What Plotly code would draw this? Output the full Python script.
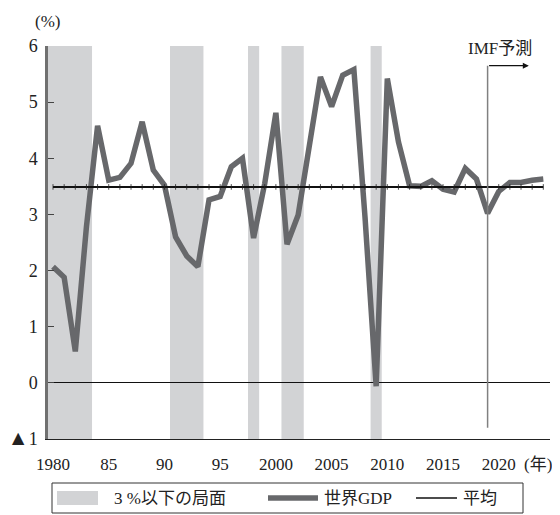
import plotly.graph_objects as go

years = list(range(1980, 2025))
world_gdp = [2.07, 1.88, 0.56, 2.78, 4.58, 3.61, 3.66, 3.91, 4.65, 3.79,
             3.52, 2.60, 2.26, 2.07, 3.26, 3.32, 3.85, 4.00, 2.58, 3.55,
             4.81, 2.47, 2.99, 4.25, 5.45, 4.92, 5.48, 5.58, 2.95, -0.06,
             5.42, 4.29, 3.51, 3.50, 3.60, 3.45, 3.40, 3.82, 3.63, 3.02,
             3.41, 3.57, 3.57, 3.61, 3.63]
average_value = 3.49
shade_start = [1979.5, 1990.5, 1997.5, 2000.5, 2008.5]
shade_end = [1983.5, 1993.5, 1998.5, 2002.5, 2009.5]
forecast_start = 2019
x_tickvals = [1980, 1985, 1990, 1995, 2000, 2005, 2010, 2015, 2020]
x_ticktext = ["1980", "85", "90", "95", "2000", "2005", "2010", "2015", "2020"]
y_tickvals = [-1, 0, 1, 2, 3, 4, 5, 6]
y_ticktext = ['<span style="font-size:21px">▲</span>1', "0", "1", "2", "3", "4", "5", "6"]

FONT = "Liberation Serif, 'Noto Sans CJK JP', serif"
GRAY_LINE = "#67686b"
SHADE = "#d2d3d5"
TXT = "#222222"

# page body has an 8px margin; figure is sized so the page matches 560x515
OFF = 8
W, H = 560 - OFF, 515 - OFF
ml, mr, mt, mb = 48 - OFF, 10, 46 - OFF, 76
pw, ph = W - ml - mr, H - mt - mb


def px(x):
    return (x - OFF - ml) / pw


def py(y):
    return (H - mb - (y - OFF)) / ph


fig = go.Figure()

fig.add_trace(go.Scatter(
    x=years, y=world_gdp, mode="lines",
    line=dict(color=GRAY_LINE, width=5.5),
    showlegend=False, hoverinfo="skip"))

fig.add_trace(go.Scatter(
    x=years, y=[average_value] * len(years), mode="lines+markers",
    line=dict(color="#111111", width=2),
    marker=dict(symbol="line-ns", size=4, line=dict(color="#222222", width=0.8)),
    showlegend=False, hoverinfo="skip"))

shapes = []
for s, e in zip(shade_start, shade_end):
    shapes.append(dict(type="rect", xref="x", yref="y", x0=s, x1=e, y0=-1, y1=6,
                       fillcolor=SHADE, line=dict(width=0), layer="below"))
# forecast vertical line
shapes.append(dict(type="line", xref="x", yref="y", x0=forecast_start, x1=forecast_start,
                   y0=-0.8, y1=5.65, line=dict(color="#808080", width=1.5), layer="above"))

# legend (manual)
shapes.append(dict(type="rect", xref="paper", yref="paper", x0=px(52), x1=px(523),
                   y0=py(513), y1=py(483), line=dict(color="#333333", width=1),
                   fillcolor="rgba(0,0,0,0)"))
shapes.append(dict(type="rect", xref="paper", yref="paper", x0=px(57), x1=px(98),
                   y0=py(505), y1=py(491), line=dict(width=0), fillcolor=SHADE))
shapes.append(dict(type="line", xref="paper", yref="paper", x0=px(268), x1=px(318),
                   y0=py(498), y1=py(498), line=dict(color=GRAY_LINE, width=5.5)))
shapes.append(dict(type="line", xref="paper", yref="paper", x0=px(416), x1=px(457),
                   y0=py(498), y1=py(498), line=dict(color="#111111", width=1.5)))

annotations = [
    dict(text="3 %以下の局面", xref="paper", yref="paper", x=px(112), y=py(498),
         xanchor="left", yanchor="middle", showarrow=False, font=dict(size=17, color=TXT, family=FONT)),
    dict(text="世界GDP", xref="paper", yref="paper", x=px(322), y=py(498),
         xanchor="left", yanchor="middle", showarrow=False, font=dict(size=17, color=TXT, family=FONT)),
    dict(text="平均", xref="paper", yref="paper", x=px(461), y=py(498),
         xanchor="left", yanchor="middle", showarrow=False, font=dict(size=17, color=TXT, family=FONT)),
    dict(text="(%)", xref="paper", yref="paper", x=px(47), y=py(22),
         xanchor="center", yanchor="middle", showarrow=False, font=dict(size=17, color=TXT, family=FONT)),
    dict(text="(年)", xref="paper", yref="paper", x=px(538), y=py(464),
         xanchor="center", yanchor="middle", showarrow=False, font=dict(size=17, color=TXT, family=FONT)),
    dict(text="IMF予測", xref="x", yref="y", x=forecast_start + 1.1, y=5.96,
         xanchor="center", yanchor="middle", showarrow=False, font=dict(size=17, color=TXT, family=FONT)),
    dict(text="", xref="x", yref="y", x=forecast_start + 3.7, y=5.65,
         ax=forecast_start, ay=5.65, axref="x", ayref="y", showarrow=True,
         arrowhead=2, arrowsize=1, arrowwidth=1.2, arrowcolor="#111111", standoff=0, startstandoff=0),
]

fig.update_layout(
    width=W, height=H,
    margin=dict(l=ml, r=mr, t=mt, b=mb, autoexpand=False),
    paper_bgcolor="white", plot_bgcolor="white",
    font=dict(family=FONT, size=17, color=TXT),
    shapes=shapes, annotations=annotations,
    showlegend=False,
    xaxis=dict(range=[1979.55, 2024.6], showgrid=False, zeroline=False, automargin=False,
               showline=True, linecolor="#222222", linewidth=1.2,
               ticks="", tickvals=x_tickvals, ticktext=x_ticktext,
               ticklabelstandoff=9, tickfont=dict(size=17, family=FONT, color=TXT)),
    yaxis=dict(range=[-1, 6], showgrid=False, zeroline=True, zerolinecolor="#111111",
               automargin=False,
               zerolinewidth=1.2, showline=True, linecolor="#707070", linewidth=2.5,
               ticks="inside", ticklen=6, tickcolor="#444444", tickwidth=1,
               tickvals=y_tickvals, ticktext=y_ticktext, ticklabelstandoff=4,
               tickfont=dict(size=18, family=FONT, color=TXT)),
)

fig.write_html("out.html")
